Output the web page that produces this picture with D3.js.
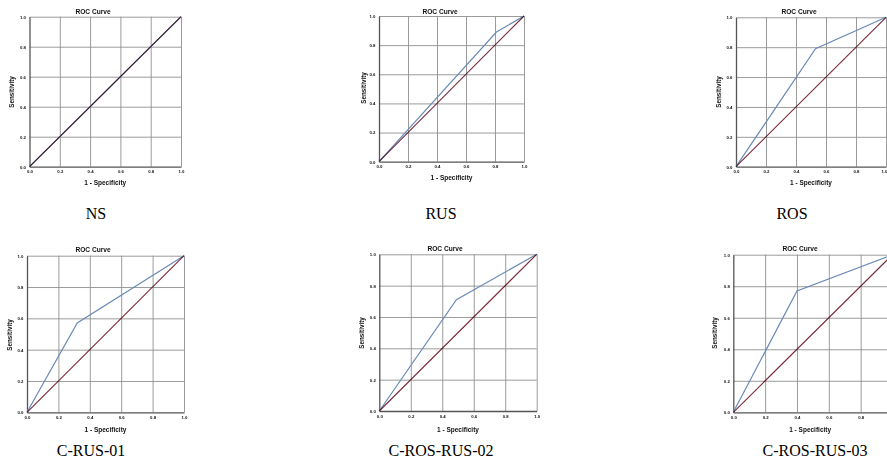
<!DOCTYPE html>
<html>
<head>
<meta charset="utf-8">
<script src="https://cdn.jsdelivr.net/npm/d3@7"></script>
<style>
  html, body { margin: 0; padding: 0; background: #fff; overflow: hidden; }
  svg { display: block; }
  .chart text { font-family: "Liberation Sans", Arial, sans-serif; font-weight: bold; fill: #111; }
  .caption { font-family: "Liberation Serif", "Times New Roman", serif; font-size: 16px; fill: #000; }
</style>
</head>
<body>
<script>
// ---- data ----
const captions = ["NS", "RUS", "ROS", "C-RUS-01", "C-ROS-RUS-02", "C-ROS-RUS-03"];
const chartTitle = "ROC Curve";
const xAxisTitle = "1 - Specificity";
const yAxisTitle = "Sensitivity";
// ROC curve points (1 - specificity, sensitivity) per model
const rocFpr = [
  [0, 1],
  [0, 0.81, 1],
  [0, 0.53, 1],
  [0, 0.32, 1],
  [0, 0.49, 1],
  [0, 0.40, 1]
];
const rocTpr = [
  [0, 1],
  [0, 0.89, 1],
  [0, 0.79, 1],
  [0, 0.57, 1],
  [0, 0.71, 1],
  [0, 0.77, 1]
];
const refFpr = [0, 1];
const refTpr = [0, 1];
const tickValues = [0, 0.2, 0.4, 0.6, 0.8, 1.0];
const tickLabels = ["0.0", "0.2", "0.4", "0.6", "0.8", "1.0"];

// ---- layout (pixel boxes of each panel) ----
const layout = [
  {l: 29.5, r: 181,   t: 16.7,  b: 166.7, tx: 93,  ty: 11.7, xty: 183,   yx: 12,  yy: 92,  cx: 96,  cy: 219},
  {l: 379,  r: 524,   t: 16,    b: 161.7, tx: 440, ty: 11.7, xty: 177.3, yx: 364, yy: 88,  cx: 441, cy: 219},
  {l: 736,  r: 886,   t: 17.3,  b: 166.7, tx: 799, ty: 11.7, xty: 183,   yx: 719, yy: 92,  cx: 792, cy: 219},
  {l: 27,   r: 184,   t: 255.7, b: 412.3, tx: 93,  ty: 249.5, xty: 430,  yx: 10,  yy: 335, cx: 91,  cy: 456},
  {l: 379.3,r: 536.7, t: 254.3, b: 411,   tx: 445, ty: 248.3, xty: 430,  yx: 362, yy: 333, cx: 441, cy: 456},
  {l: 733.3,r: 892.5, t: 254.7, b: 412.3, tx: 800, ty: 248.8, xty: 430,  yx: 715, yy: 333, cx: 815, cy: 456}
];

const W = 887, H = 462;
const svg = d3.select("body").append("svg").attr("width", W).attr("height", H);

layout.forEach((p, i) => {
  const x = d3.scaleLinear().domain([0, 1]).range([p.l, p.r]);
  const y = d3.scaleLinear().domain([0, 1]).range([p.b, p.t]);
  const g = svg.append("g").attr("class", "chart").style("isolation", "isolate");
  const w = p.r - p.l, h = p.b - p.t;

  // vertical gridlines
  const gx = g.append("g").attr("transform", `translate(0,${p.b})`)
    .call(d3.axisBottom(x).tickValues(tickValues.slice(1)).tickSize(-h).tickFormat(""));
  gx.select(".domain").remove();
  gx.selectAll("line").attr("stroke", "#909090").attr("stroke-width", 0.9);

  // horizontal gridlines
  const gy = g.append("g").attr("transform", `translate(${p.l},0)`)
    .call(d3.axisLeft(y).tickValues(tickValues.slice(1)).tickSize(-w).tickFormat(""));
  gy.select(".domain").remove();
  gy.selectAll("line").attr("stroke", "#909090").attr("stroke-width", 0.9);

  // axes with labels (labels past the window edge are dropped / pulled in)
  const visX = tickValues.filter(v => x(v) - 2 < W);
  const ax = g.append("g").attr("transform", `translate(0,${p.b})`)
    .call(d3.axisBottom(x).tickValues(visX).tickSize(0).tickPadding(3.5)
      .tickFormat(d => tickLabels[tickValues.indexOf(d)]));
  ax.select(".domain").attr("stroke", "#555").attr("stroke-width", 1.3);
  ax.selectAll("text").attr("font-size", "4.3px").attr("fill", "#222")
    .attr("text-anchor", d => x(d) + 4 > W ? "end" : "middle")
    .attr("dx", d => x(d) + 4 > W ? (W - x(d)) + "px" : 0);

  const ay = g.append("g").attr("transform", `translate(${p.l},0)`)
    .call(d3.axisLeft(y).tickValues(tickValues).tickSize(0).tickPadding(3.5)
      .tickFormat((d, k) => tickLabels[k]));
  ay.select(".domain").attr("stroke", "#555").attr("stroke-width", 1.3);
  ay.selectAll("text").attr("font-size", "4.3px").attr("fill", "#222");

  const line = d3.line().x(d => x(d[0])).y(d => y(d[1]));

  // ROC curve
  g.append("path")
    .datum(rocFpr[i].map((v, k) => [v, rocTpr[i][k]]))
    .attr("d", line)
    .attr("fill", "none")
    .attr("stroke", "#6a8ab5")
    .attr("stroke-width", 1.2);

  // reference line
  g.append("path")
    .datum(refFpr.map((v, k) => [v, refTpr[k]]))
    .attr("d", line)
    .attr("fill", "none")
    .attr("stroke", "#7a2a3a")
    .attr("stroke-width", 1.1)
    .style("mix-blend-mode", "multiply");

  // titles
  g.append("text").attr("x", p.tx).attr("y", p.ty).attr("dy", "0.35em")
    .attr("text-anchor", "middle").attr("font-size", "6.6px").text(chartTitle);
  g.append("text").attr("x", (p.l + Math.min(p.r, W)) / 2).attr("y", p.xty).attr("dy", "0.35em")
    .attr("text-anchor", "middle").attr("font-size", "6.5px").text(xAxisTitle);
  g.append("text").attr("transform", `translate(${p.yx},${p.yy}) rotate(-90)`).attr("dy", "0.35em")
    .attr("text-anchor", "middle").attr("font-size", "6.3px").text(yAxisTitle);

  // caption
  svg.append("text").attr("class", "caption").attr("x", p.cx).attr("y", p.cy)
    .attr("text-anchor", "middle").text(captions[i]);
});
</script>
</body>
</html>
